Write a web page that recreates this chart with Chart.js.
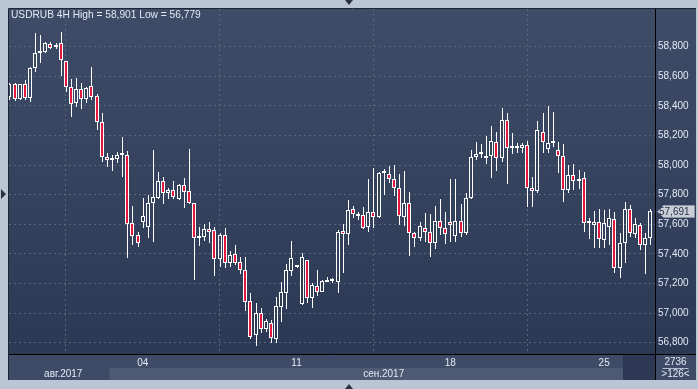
<!DOCTYPE html>
<html>
<head>
<meta charset="utf-8">
<script src="https://cdn.jsdelivr.net/npm/chart.js@4.4.1/dist/chart.umd.min.js"></script>
<style>
  html, body { margin: 0; padding: 0; background: #bac6d6; }
  #wrap { width: 698px; height: 389px; }
</style>
</head>
<body>
<div id="wrap"><canvas id="c" width="698" height="389"></canvas></div>
<script>
"use strict";

// ── Data: USDRUB 4H candles ──
const opens = [
  58.460, 58.545, 58.444, 58.545, 58.455, 58.653, 58.755, 58.762, 58.816, 58.795,
  58.824, 58.700, 58.529, 58.417, 58.512, 58.444, 58.532, 58.466, 58.289, 58.052,
  58.032, 58.043, 58.068, 58.068, 57.608, 57.530, 57.617, 57.583, 57.741, 57.779,
  57.892, 57.809, 57.831, 57.768, 57.863, 57.823, 57.741, 57.512, 57.512, 57.566,
  57.559, 57.363, 57.525, 57.340, 57.397, 57.343, 57.291, 57.082, 56.850, 56.998,
  56.890, 56.931, 56.823, 57.043, 57.138, 57.286, 57.310, 57.059, 57.359, 57.104,
  57.183, 57.144, 57.212, 57.218, 57.212, 57.554, 57.532, 57.703, 57.656, 57.660,
  57.579, 57.681, 57.651, 57.944, 57.940, 57.904, 57.843, 57.651, 57.741, 57.539,
  57.509, 57.573, 57.546, 57.471, 57.622, 57.573, 57.618, 57.523, 57.622, 57.539,
  57.775, 58.052, 58.072, 58.045, 58.063, 58.158, 58.045, 58.304, 58.113, 58.113,
  58.113, 58.135, 57.847, 57.827, 58.221, 58.108, 58.147, 58.102, 58.061, 57.831,
  57.933, 57.892, 57.910, 57.606, 57.594, 57.613, 57.497, 57.583, 57.633, 57.302,
  57.471, 57.701, 57.534, 57.595, 57.460, 57.505
];
const highs = [
  58.552, 58.555, 58.550, 58.574, 58.662, 58.890, 58.878, 58.833, 58.833, 58.827,
  58.901, 58.703, 58.581, 58.586, 58.552, 58.530, 58.660, 58.478, 58.349, 58.079,
  58.068, 58.090, 58.191, 58.097, 57.723, 57.546, 57.779, 57.797, 58.102, 57.955,
  57.917, 57.843, 57.892, 57.870, 57.910, 58.106, 57.745, 57.583, 57.600, 57.617,
  57.583, 57.540, 57.575, 57.420, 57.460, 57.377, 57.381, 57.133, 57.066, 57.032,
  56.960, 56.953, 57.111, 57.212, 57.329, 57.487, 57.315, 57.408, 57.362, 57.205,
  57.291, 57.225, 57.245, 57.235, 57.561, 57.602, 57.764, 57.723, 57.685, 57.715,
  57.904, 57.978, 57.955, 57.971, 57.993, 57.998, 57.940, 57.960, 57.818, 57.550,
  57.615, 57.674, 57.669, 57.723, 57.771, 57.683, 57.904, 57.904, 57.737, 57.809,
  58.102, 58.158, 58.142, 58.196, 58.264, 58.225, 58.383, 58.349, 58.214, 58.151,
  58.151, 58.162, 57.921, 58.297, 58.354, 58.399, 58.360, 58.153, 58.142, 58.001,
  58.005, 57.966, 57.955, 57.640, 57.691, 57.703, 57.696, 57.701, 57.685, 57.539,
  57.752, 57.730, 57.640, 57.607, 57.543, 57.701
];
const lows = [
  58.440, 58.435, 58.440, 58.440, 58.424, 58.628, 58.687, 58.757, 58.786, 58.786,
  58.601, 58.495, 58.326, 58.390, 58.376, 58.419, 58.439, 58.237, 58.022, 57.989,
  57.962, 58.012, 57.921, 57.374, 57.460, 57.449, 57.573, 57.509, 57.482, 57.770,
  57.735, 57.768, 57.768, 57.765, 57.712, 57.735, 57.223, 57.453, 57.490, 57.471,
  57.250, 57.313, 57.302, 57.313, 57.326, 57.264, 57.014, 56.825, 56.779, 56.863,
  56.870, 56.800, 56.800, 56.942, 57.027, 57.252, 57.305, 57.055, 57.070, 57.036,
  57.115, 57.140, 57.210, 57.205, 57.134, 57.273, 57.460, 57.640, 57.629, 57.570,
  57.550, 57.573, 57.640, 57.798, 57.881, 57.791, 57.595, 57.588, 57.388, 57.448,
  57.490, 57.482, 57.381, 57.431, 57.527, 57.467, 57.482, 57.482, 57.516, 57.527,
  57.770, 58.034, 58.045, 58.007, 57.914, 57.962, 58.022, 57.872, 58.074, 58.079,
  58.079, 57.714, 57.719, 57.809, 58.083, 58.079, 58.120, 57.944, 57.752, 57.809,
  57.831, 57.836, 57.550, 57.498, 57.437, 57.437, 57.437, 57.460, 57.273, 57.239,
  57.336, 57.516, 57.510, 57.426, 57.262, 57.460
];
const closes = [
  58.545, 58.444, 58.545, 58.455, 58.653, 58.755, 58.762, 58.822, 58.793, 58.799,
  58.707, 58.525, 58.412, 58.512, 58.444, 58.518, 58.458, 58.289, 58.052, 58.032,
  58.035, 58.068, 58.070, 57.604, 57.523, 57.475, 57.656, 57.741, 57.782, 57.892,
  57.813, 57.831, 57.786, 57.863, 57.820, 57.741, 57.505, 57.505, 57.566, 57.550,
  57.363, 57.525, 57.340, 57.392, 57.340, 57.291, 57.077, 56.840, 56.998, 56.890,
  56.946, 56.830, 57.048, 57.142, 57.291, 57.370, 57.312, 57.377, 57.104, 57.190,
  57.144, 57.217, 57.215, 57.220, 57.550, 57.532, 57.696, 57.667, 57.658, 57.573,
  57.681, 57.651, 57.944, 57.946, 57.904, 57.843, 57.658, 57.741, 57.539, 57.509,
  57.588, 57.550, 57.471, 57.622, 57.573, 57.532, 57.595, 57.622, 57.539, 57.775,
  58.052, 58.072, 58.074, 58.063, 58.162, 58.045, 58.304, 58.113, 58.115, 58.115,
  58.135, 57.847, 57.827, 58.237, 58.158, 58.147, 58.162, 58.061, 57.831, 57.933,
  57.892, 57.906, 57.606, 57.608, 57.613, 57.500, 57.606, 57.640, 57.302, 57.471,
  57.701, 57.539, 57.602, 57.460, 57.505, 57.691
];

const weekTickIdx    = [26, 56, 86, 116];
const weekTickLabels = ["04", "11", "18", "25"];
const priceTicks     = [56.8, 57.0, 57.2, 57.4, 57.6, 57.8, 58.0, 58.2, 58.4, 58.6, 58.8];
const monthLabels    = ["авг.2017", "сен.2017"];
const titleText      = "USDRUB 4H High = 58,901 Low = 56,779";
const lastPrice      = 57.691;
const barsTotal      = "2736";
const barsVisible    = ">126<";

// ── Layout / style ──
const FONT      = "Liberation Sans, Arial, sans-serif";
const TXT       = "#e2e9f4";
const RED       = "#e2183c";
const GRID      = "#596680";
const monthStartIdx = 19.5;   // first сен candle boundary
const monthLabelAt  = [10.5, 73];

const fmtPrice = v => v.toFixed(3).replace(".", ",");

const idx      = opens.map((_, i) => i);
const bodyLow  = idx.map(i => Math.min(opens[i], closes[i]));
const bodyHigh = idx.map(i => Math.max(opens[i], closes[i]));

// ── Pixel snapping so bodies and wicks come out crisp ──
const snap = {
  id: "snap",
  afterDatasetsUpdate(chart) {
    chart.data.datasets.forEach((ds, di) => {
      const wide = ds.barThickness > 1;
      chart.getDatasetMeta(di).data.forEach(el => {
        const X = Math.round(el.x);
        el.x    = wide ? X : X + 0.5;
        el.y    = Math.round(el.y);
        el.base = Math.round(el.base);
      });
    });
  },
};

// ── Frame / decorations ──
const decor = {
  id: "decor",
  beforeDraw(chart) {
    const { ctx, chartArea: a, width, height } = chart;
    const xs = chart.scales.x;
    const R = 696, stripH = 26;
    ctx.save();
    ctx.fillStyle = "#bac6d6";
    ctx.fillRect(0, 0, width, height);

    const g = ctx.createLinearGradient(0, a.top, 0, a.bottom);
    g.addColorStop(0, "#3f4c68");
    g.addColorStop(1, "#2c3955");
    ctx.fillStyle = g;
    ctx.fillRect(a.left, a.top, R - a.left, a.bottom - a.top);

    // time strip
    ctx.fillStyle = "#3e4b66";
    ctx.fillRect(a.left, a.bottom, R - a.left, stripH);
    const sx = xs.getPixelForValue(monthStartIdx);
    ctx.fillStyle = "#4d5a73";
    ctx.fillRect(sx, a.bottom + 14, 623 - sx, stripH - 14);
    ctx.fillStyle = "#2d3954";
    ctx.fillRect(623, a.bottom + 1, a.right - 623, stripH - 1);

    ctx.strokeStyle = "#1c2536";
    ctx.lineWidth = 1;
    ctx.beginPath();
    ctx.moveTo(a.left - 0.5, a.bottom + stripH);
    ctx.lineTo(a.left - 0.5, a.top - 0.5);
    ctx.lineTo(R, a.top - 0.5);
    ctx.stroke();
    ctx.restore();
  },
  afterDraw(chart) {
    const { ctx, chartArea: a } = chart;
    const xs = chart.scales.x, ys = chart.scales.y;
    ctx.save();

    // separators
    ctx.strokeStyle = "#000";
    ctx.lineWidth = 1;
    ctx.beginPath();
    ctx.moveTo(a.right, a.bottom + 0.5);
    ctx.lineTo(696, a.bottom + 0.5);
    ctx.moveTo(a.right + 0.5, a.bottom);
    ctx.lineTo(a.right + 0.5, a.bottom + 26);
    ctx.stroke();

    ctx.font = `10.2px ${FONT}`;
    ctx.fillStyle = TXT;
    ctx.textBaseline = "middle";
    ctx.textAlign = "left";
    ctx.fillText(titleText, a.left + 2, a.top + 6);

    // month row
    ctx.font = `10px ${FONT}`;
    ctx.textAlign = "center";
    monthLabels.forEach((m, i) => {
      ctx.fillText(m, xs.getPixelForValue(monthLabelAt[i]), a.bottom + 20);
    });

    // bar counters
    const cx = (a.right + 696) / 2;
    ctx.fillText(barsTotal, cx, a.bottom + 8);
    ctx.fillText(barsVisible, cx, a.bottom + 20);
    ctx.strokeStyle = "#aeb9ca";
    ctx.beginPath();
    ctx.moveTo(cx - 13, a.bottom + 14.5);
    ctx.lineTo(cx + 13, a.bottom + 14.5);
    ctx.stroke();

    // last price tag
    const py = Math.round(ys.getPixelForValue(lastPrice));
    ctx.fillStyle = "#c9ced7";
    ctx.strokeStyle = "#8e98a8";
    ctx.beginPath();
    ctx.moveTo(a.right + 2.5, py + 0.5);
    ctx.lineTo(a.right + 8.5, py - 5.5);
    ctx.lineTo(694.5, py - 5.5);
    ctx.lineTo(694.5, py + 6.5);
    ctx.lineTo(a.right + 8.5, py + 6.5);
    ctx.closePath();
    ctx.fill();
    ctx.stroke();
    ctx.fillStyle = "#26314a";
    ctx.textAlign = "left";
    ctx.fillText(fmtPrice(lastPrice), a.right + 4, py + 1);

    // frame arrows
    ctx.fillStyle = "#2b3140";
    ctx.beginPath();
    ctx.moveTo(345, 0); ctx.lineTo(353, 0); ctx.lineTo(349, 5); ctx.closePath();
    ctx.moveTo(345, 389); ctx.lineTo(353, 389); ctx.lineTo(349, 384); ctx.closePath();
    ctx.moveTo(1, 189); ctx.lineTo(1, 199); ctx.lineTo(6, 194); ctx.closePath();
    ctx.fill();
    ctx.restore();
  }
};

// ── Chart ──
const ctx = document.getElementById("c").getContext("2d");
new Chart(ctx, {
  type: "bar",
  data: {
    datasets: [
      {
        label: "upper wick",
        data: idx.map(i => ({ x: i, y: [bodyHigh[i], highs[i]] })),
        backgroundColor: "#ffffff",
        barThickness: 1,
        inflateAmount: 0,
        borderWidth: 0,
        grouped: false,
      },
      {
        label: "lower wick",
        data: idx.map(i => ({ x: i, y: [lows[i], bodyLow[i]] })),
        backgroundColor: "#ffffff",
        barThickness: 1,
        inflateAmount: 0,
        borderWidth: 0,
        grouped: false,
      },
      {
        label: "body",
        data: idx.map(i => ({ x: i, y: [opens[i], closes[i]] })),
        backgroundColor: idx.map(i => closes[i] < opens[i] ? RED : "rgba(0,0,0,0)"),
        borderColor: "#ffffff",
        borderWidth: 1,
        borderSkipped: false,
        barThickness: 4,
        minBarLength: 2,
        inflateAmount: 0,
        grouped: false,
      },
    ],
  },
  options: {
    responsive: false,
    animation: false,
    layout: { padding: { left: 9, top: 9, right: 2, bottom: 9 } },
    plugins: { legend: { display: false }, tooltip: { enabled: false } },
    scales: {
      x: {
        type: "linear",
        min: -0.08,
        max: 125.92,
        offset: false,
        afterBuildTicks: s => { s.ticks = weekTickIdx.map(v => ({ value: v })); },
        afterFit: s => { s.height = 26; },
        ticks: {
          autoSkip: false,
          maxRotation: 0,
          padding: 3,
          color: TXT,
          font: { family: FONT, size: 10 },
          callback: (v, i) => weekTickLabels[i],
        },
        grid: { color: GRID, drawTicks: false },
        border: { color: "#000", dash: [2, 3] },
      },
      y: {
        position: "right",
        min: 56.724,
        max: 59.054,
        afterBuildTicks: s => { s.ticks = priceTicks.map(v => ({ value: v })); },
        afterFit: s => { s.width = 41; },
        ticks: {
          padding: 3,
          color: TXT,
          font: { family: FONT, size: 10 },
          callback: v => fmtPrice(v),
        },
        grid: { color: GRID, drawTicks: false },
        border: { color: "#000", dash: [2, 3] },
      },
    },
  },
  plugins: [snap, decor],
});
</script>
</body>
</html>
